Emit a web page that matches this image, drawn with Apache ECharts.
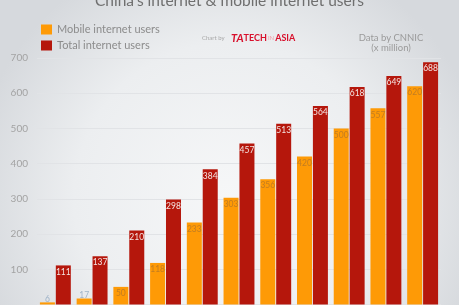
<!DOCTYPE html>
<html>
<head>
<meta charset="utf-8">
<script src="https://cdn.jsdelivr.net/npm/echarts@6/dist/echarts.min.js"></script>
<style>
html,body{margin:0;padding:0;background:#e9ebee;}
#chart{width:459px;height:305px;}
</style>
</head>
<body>
<div id="chart"></div>
<script>
var categories = ['1','2','3','4','5','6','7','8','9','10','11'];
var mobileUsers = [6, 17, 50, 118, 233, 303, 356, 420, 500, 557, 620];
var totalUsers = [111, 137, 210, 298, 384, 457, 513, 564, 618, 649, 688];
var yTicks = [0, 100, 200, 300, 400, 500, 600, 700];

var FONT = 'Lato, "Open Sans", sans-serif';

function mobileData() {
  return mobileUsers.map(function (v) {
    if (v < 40) {
      return { value: v, label: { position: 'top', distance: -1, color: '#9fb3c8' } };
    }
    return v;
  });
}

var chart = echarts.init(document.getElementById('chart'), null, { renderer: 'canvas' });
chart.setOption({
  backgroundColor: {
    type: 'radial', x: 0.5, y: 0.65, r: 0.85,
    colorStops: [{ offset: 0, color: '#f6f7f8' }, { offset: 0.6, color: '#eceef0' }, { offset: 1, color: '#d6d9dd' }]
  },
  animation: false,
  textStyle: { fontFamily: FONT },
  grid: { left: 37, right: 18, top: 58, bottom: 0.5, containLabel: false },
  legend: {
    orient: 'vertical', left: 36, top: 19,
    itemWidth: 11, itemHeight: 10, itemGap: 5,
    icon: 'rect',
    textStyle: { fontSize: 11, color: '#8c8c8c', fontFamily: FONT },
    data: ['Mobile internet users', 'Total internet users']
  },
  xAxis: {
    type: 'category', data: categories,
    axisLine: { show: false }, axisTick: { show: false }, axisLabel: { show: false }
  },
  yAxis: {
    type: 'value', min: yTicks[0], max: yTicks[yTicks.length - 1], interval: 100,
    axisLine: { show: false }, axisTick: { show: false },
    axisLabel: {
      margin: 9, fontSize: 10, color: '#a3a3a3',
      formatter: function (v) { return v === 0 ? '' : String(v); }
    },
    splitLine: { lineStyle: { color: '#e1e3e6', width: 1 } }
  },
  series: [
    {
      name: 'Mobile internet users', type: 'bar', data: mobileData(),
      barWidth: 15, barGap: '6%',
      itemStyle: { color: '#fe9a06' },
      label: { show: true, position: 'insideTop', distance: 2, fontSize: 8.5, color: '#c27d22', fontFamily: FONT }
    },
    {
      name: 'Total internet users', type: 'bar', data: totalUsers,
      barWidth: 15,
      itemStyle: { color: '#b5170c' },
      label: { show: true, position: 'insideTop', distance: 2, fontSize: 8.5, color: '#f4e6e4', fontFamily: FONT }
    }
  ],
  graphic: [
    {
      type: 'text', left: 'center', top: -7,
      style: { text: "China's internet & mobile internet users", fontSize: 15.5, fill: '#6f6f6f', fontFamily: FONT }
    },
    {
      type: 'text', x: 202, y: 38.5,
      style: { text: 'Chart by', fontSize: 6, fill: '#a8a8a8', fontFamily: FONT, verticalAlign: 'middle' }
    },
    {
      type: 'text', x: 231, y: 38.5,
      style: {
        text: '{l|TA}{t|TECH}{i|IN}{t|ASIA}', verticalAlign: 'middle',
        rich: {
          l: { fontSize: 11, fontWeight: 'bold', fill: '#d8102c', fontFamily: FONT, fontStyle: 'italic' },
          t: { fontSize: 9, fontWeight: 'bold', fill: '#d8102c', fontFamily: FONT },
          i: { fontSize: 6, fill: '#f0a0aa', fontFamily: FONT, padding: [0, 1, 0, 1] }
        }
      }
    },
    {
      type: 'text', x: 391, y: 38,
      style: { text: 'Data by CNNIC', fontSize: 9.5, fill: '#9a9a9a', fontFamily: FONT, align: 'center', verticalAlign: 'middle' }
    },
    {
      type: 'text', x: 391, y: 48,
      style: { text: '(x million)', fontSize: 9.5, fill: '#9a9a9a', fontFamily: FONT, align: 'center', verticalAlign: 'middle' }
    }
  ]
});
</script>
</body>
</html>
